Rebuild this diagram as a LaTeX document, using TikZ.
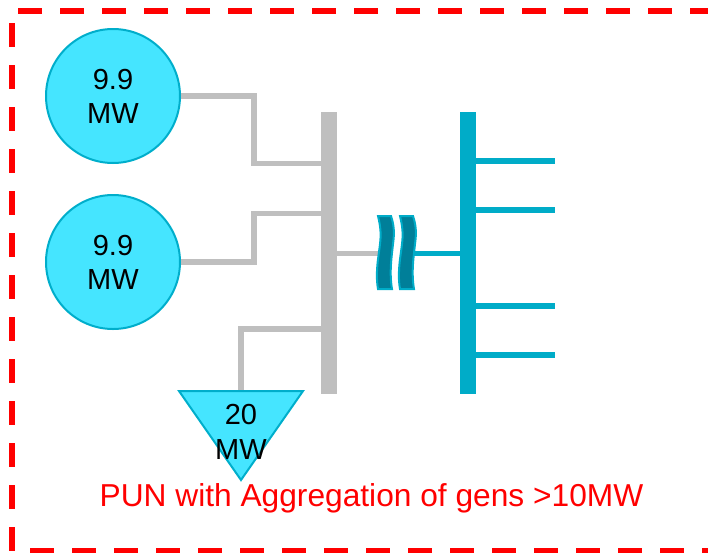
\documentclass[tikz,border=0pt]{standalone}
\usepackage{xcolor}
\usepackage{fontspec}
\setmainfont{Liberation Sans}
\usepackage{tikz}

\definecolor{genfill}{HTML}{45E5FF}
\definecolor{genedge}{HTML}{00AECB}
\definecolor{busgray}{HTML}{BFBFBF}
\definecolor{buscyan}{HTML}{00ACC8}
\definecolor{capfill}{HTML}{007F99}

\tikzset{
    gen/.style={circle,draw=genedge,fill=genfill,line width=2,minimum size=134,inner sep=0,
        align=center,font=\fontsize{29}{34}\selectfont,text height=55.5},
    bus/.style={rectangle,minimum width=16,minimum height=282,inner sep=0},
    grayline/.style={draw=busgray,line width=5.5},
    cyanline/.style={draw=buscyan,line width=5.5},
    capstrip/.style={draw=buscyan,fill=capfill,line width=2}
}

\begin{document}
\begin{tikzpicture}[x=1pt,y=-1pt]

    \useasboundingbox (0,0) rectangle (708,552);

    % outer boundary
    \draw[red,line width=6,dash pattern=on 24 off 18,dash phase=6]
        (708,11)--(12,11)--(12,551)--(708,551);

    % buses
    \node[bus,fill=busgray] (busleft) at (329,253) {};
    \node[bus,fill=buscyan] (busright) at (468,253) {};

    % generators
    \node[gen] (genA) at (113,96) {9.9\\MW};
    \node[gen] (genB) at (113,262) {9.9\\MW};

    \coordinate (tapA) at (321,163.5);
    \coordinate (tapB) at (321,213.5);
    \coordinate (tapC) at (321,329);
    \coordinate (loadtop) at (241,391);
    \coordinate (capL) at (380,253.5);
    \coordinate (capR) at (413,253.5);

    \draw[grayline] (genA.east)--(254,96)--(254,163.5)--(tapA);
    \draw[grayline] (genB.east)--(254,262)--(254,213.5)--(tapB);
    \draw[grayline] (loadtop)--(241,329)--(tapC);
    \draw[grayline] (busleft.east |- capL)--(capL);
    \draw[cyanline] (capR)--(busright.west |- capR);

    % load
    \draw[draw=genedge,fill=genfill,line width=2,line join=miter] (179,391)--(303,391)--(241,480)--cycle;
    \node[align=center,font=\fontsize{29}{35}\selectfont] (load) at (241,432) {20\\MW};

    % break in the line
    \foreach \a in {0,22}{
        \draw[capstrip,xshift=\a] (378,216)
            .. controls (381,228) and (381,236) .. (380,244)
            .. controls (379,254) and (375,272) .. (378,289)
            -- (392,289)
            .. controls (389,272) and (392,254) .. (393,244)
            .. controls (394,236) and (395,228) .. (391,216)
            -- cycle;
    }

    % feeders
    \foreach \a in {161,210,306,355}{
        \coordinate (feed\a) at (555,\a);
        \draw[cyanline] (busright.east |- feed\a)--(feed\a);
    }

    \node[text=red,font=\fontsize{31.7}{34}\selectfont,anchor=base] (caption) at (371.5,506) {PUN with Aggregation of gens >10MW};

\end{tikzpicture}
\end{document}
